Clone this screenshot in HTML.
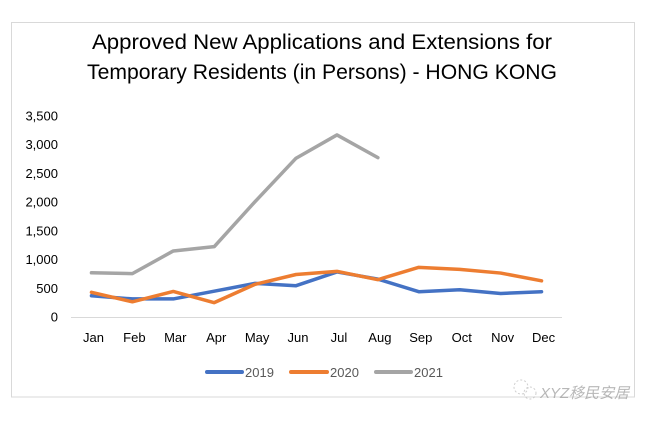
<!DOCTYPE html>
<html><head><meta charset="utf-8"><style>
body{margin:0;background:#fff;width:652px;height:421px;overflow:hidden;font-family:"Liberation Sans","Noto Sans CJK SC",sans-serif}
</style></head><body>
<svg width="652" height="421">
<rect x="11.5" y="22.5" width="623" height="374.5" fill="#fff" stroke="#d9d9d9"/>
<text x="322" y="49" font-size="21" text-anchor="middle" fill="#000" textLength="460" lengthAdjust="spacingAndGlyphs">Approved New Applications and Extensions for</text>
<text x="322" y="79" font-size="21" text-anchor="middle" fill="#000" textLength="470" lengthAdjust="spacingAndGlyphs">Temporary Residents (in Persons) - HONG KONG</text>
<g id="yaxis"></g>
<g id="xaxis"></g>
<g id="series"></g>
<g>
<line x1="207" y1="372" x2="242" y2="372" stroke="#4472c4" stroke-width="4" stroke-linecap="round"/>
<text x="245" y="377" font-size="13" fill="#595959">2019</text>
<line x1="291" y1="372" x2="327" y2="372" stroke="#ed7d31" stroke-width="4" stroke-linecap="round"/>
<text x="330" y="377" font-size="13" fill="#595959">2020</text>
<line x1="376" y1="372" x2="411" y2="372" stroke="#a5a5a5" stroke-width="4" stroke-linecap="round"/>
<text x="414" y="377" font-size="13" fill="#595959">2021</text>
</g>
<g opacity="0.7">
<circle cx="521" cy="387" r="7" fill="none" stroke="#bbb" stroke-dasharray="2 2"/>
<circle cx="530" cy="393" r="6" fill="none" stroke="#bbb" stroke-dasharray="2 2"/>
<text x="540" y="398" font-size="15" fill="#999" font-style="italic">XYZ移民安居</text>
</g>
</svg>
<script>
const months=["Jan","Feb","Mar","Apr","May","Jun","Jul","Aug","Sep","Oct","Nov","Dec"];
const s2019=[370,315,315,450,585,545,785,660,440,475,410,440];
const s2020=[430,265,445,250,570,740,795,650,865,830,765,630];
const s2021=[770,755,1150,1225,2010,2765,3170,2775];
const yTicks=[0,500,1000,1500,2000,2500,3000,3500];
const ns="http://www.w3.org/2000/svg";
const x0=71,x1=562,y0=317,yTop=116,yMax=3500;
const step=(x1-x0)/months.length;
function xs(i){return x0+step*(i+0.5);}
function ys(v){return y0-(v/yMax)*(y0-yTop);}
const ya=document.getElementById('yaxis'),xa=document.getElementById('xaxis'),sg=document.getElementById('series');
yTicks.forEach(t=>{const el=document.createElementNS(ns,'text');


el.setAttribute('x',58);el.setAttribute('y',ys(t)+4.5);el.setAttribute('font-size','13');el.setAttribute('text-anchor','end');el.setAttribute('fill','#000');
el.textContent=t.toLocaleString('en-US');ya.appendChild(el);});
const base=document.createElementNS(ns,'line');


base.setAttribute('x1',x0);base.setAttribute('x2',x1);base.setAttribute('y1',y0+0.5);base.setAttribute('y2',y0+0.5);base.setAttribute('stroke','#d9d9d9');xa.appendChild(base);
months.forEach((m,i)=>{const el=document.createElementNS(ns,'text');


el.setAttribute('x',xs(i)+2);el.setAttribute('y',342);el.setAttribute('font-size','13');el.setAttribute('text-anchor','middle');el.setAttribute('fill','#000');
el.textContent=m;xa.appendChild(el);});
function line(data,color,name){const p=document.createElementNS(ns,'polyline');


p.setAttribute('points',data.map((v,i)=>xs(i)+','+ys(v)).join(' '));
p.setAttribute('fill','none');p.setAttribute('stroke',color);p.setAttribute('stroke-width','3.5');p.setAttribute('stroke-linejoin','round');p.setAttribute('stroke-linecap','round');sg.appendChild(p);}
line(s2019,'#4472c4','line-2019');
line(s2020,'#ed7d31','line-2020');
line(s2021,'#a5a5a5','line-2021');
</script>
</body></html>
